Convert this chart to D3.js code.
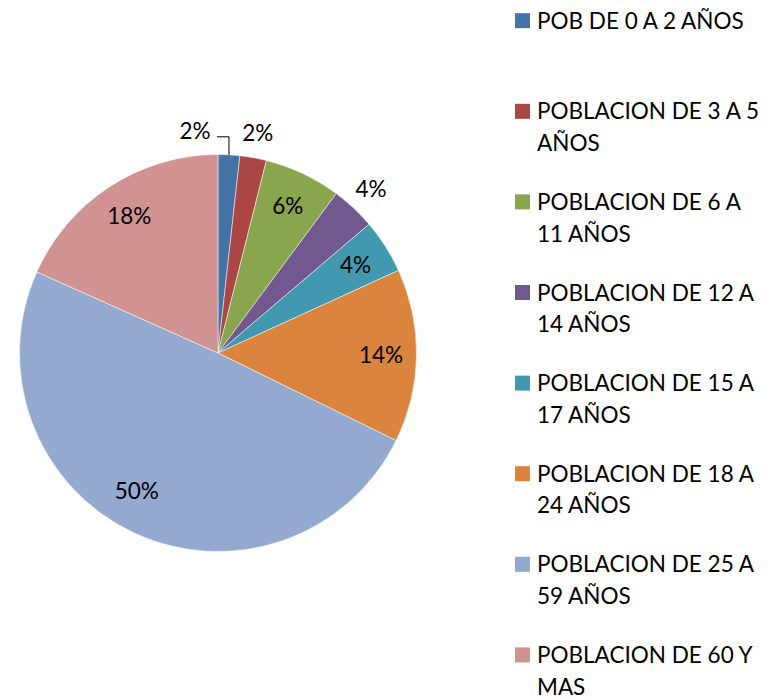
<!DOCTYPE html>
<html>
<head>
<meta charset="utf-8">
<script src="https://cdn.jsdelivr.net/npm/d3@7"></script>
<style>
  html, body { margin: 0; padding: 0; background: #fff; }
  svg { display: block; }
  text { font-family: Lato, "Open Sans", sans-serif; fill: #000; }
</style>
</head>
<body>
<svg id="chart" width="773" height="698"></svg>
<script>
const categories = [
  "POB DE 0 A 2 AÑOS",
  "POBLACION DE 3 A 5 AÑOS",
  "POBLACION DE 6 A 11 AÑOS",
  "POBLACION DE 12 A 14 AÑOS",
  "POBLACION DE 15 A 17 AÑOS",
  "POBLACION DE 18 A 24 AÑOS",
  "POBLACION DE 25 A 59 AÑOS",
  "POBLACION DE 60 Y MAS"
];
const values = [1.76, 2.16, 6.24, 3.6, 4.4, 14.1, 49.4, 18.3];
const percentLabels = ["2%", "2%", "6%", "4%", "4%", "14%", "50%", "18%"];
const colors = ["#4572A7", "#AA4643", "#89A54E", "#71588F", "#4198AF", "#DB843D", "#93A9CF", "#D19392"];

const svg = d3.select("#chart");
const cx = 218, cy = 353, R = 198.5;
const fontSize = 22.5;

const pie = d3.pie().sort(null).value(d => d);
const arcs = pie(values);
const arc = d3.arc().innerRadius(0).outerRadius(R);

const color = d3.scaleOrdinal().domain(categories).range(colors);

const g = svg.append("g").attr("transform", `translate(${cx},${cy})`);
g.selectAll("path.slice")
  .data(arcs)
  .join("path")
  .attr("class", "slice")
  .attr("d", arc)
  .attr("fill", (d, i) => color(categories[i]))
  .attr("stroke", "#fff")
  .attr("stroke-width", 0.5);

// label placement
const inner = d3.arc().innerRadius(163).outerRadius(163);
const outer = d3.arc().innerRadius(224).outerRadius(224);
const rim = d3.arc().innerRadius(R).outerRadius(R);
const outsideIdx = new Set([1, 3]);

arcs.forEach((d, i) => {
  let x, y;
  if (i === 0) {
    const [px, py] = rim.centroid(d);
    const elbowY = py - 18;
    g.append("polyline")
      .attr("points", `${px},${py} ${px},${elbowY} ${px - 12},${elbowY}`)
      .attr("fill", "none")
      .attr("stroke", "#000")
      .attr("stroke-width", 1);
    x = px - 34; y = elbowY - 6;
  } else if (outsideIdx.has(i)) {
    [x, y] = outer.centroid(d);
  } else {
    [x, y] = inner.centroid(d);
    if (i === 6) { x -= 12; y -= 10; }
  }
  g.append("text")
    .attr("x", x).attr("y", y)
    .attr("dy", "0.36em")
    .attr("text-anchor", "middle")
    .style("font-size", fontSize + "px")
    .text(percentLabels[i]);
});

// legend
const legendX = 515, textX = 537, firstY = 20.7, step = 90.6, lineH = 31.5, maxW = 230;
const legend = svg.append("g");
categories.forEach((name, i) => {
  const yc = firstY + i * step;
  legend.append("rect")
    .attr("x", legendX).attr("y", yc - 7.5)
    .attr("width", 15).attr("height", 15)
    .attr("fill", color(name));
  const t = legend.append("text")
    .attr("x", textX).attr("y", yc)
    .style("font-size", fontSize + "px");
  const words = name.split(" ");
  let line = [];
  let lineNo = 0;
  let tspan = t.append("tspan").attr("x", textX).attr("y", yc).attr("dy", "0.36em");
  words.forEach(w => {
    line.push(w);
    tspan.text(line.join(" "));
    if (tspan.node().getComputedTextLength() > maxW && line.length > 1) {
      line.pop();
      tspan.text(line.join(" "));
      line = [w];
      lineNo++;
      tspan = t.append("tspan").attr("x", textX).attr("y", yc + lineNo * lineH).attr("dy", "0.36em").text(w);
    }
  });
});
</script>
</body>
</html>
